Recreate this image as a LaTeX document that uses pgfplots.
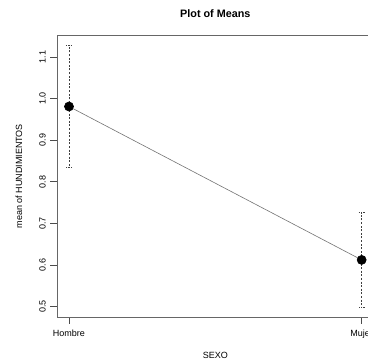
\documentclass[border=0pt]{standalone}
\usepackage{fontspec}
\setmainfont{Liberation Sans}
\usepackage{pgfplots}
\pgfplotsset{compat=1.18}
\begin{document}
\begin{tikzpicture}
\useasboundingbox (-42.75pt,-34.5pt) rectangle (233.25pt,237.75pt);
\clip (-42.75pt,-34.5pt) rectangle (233.25pt,237.75pt);
\begin{axis}[
  at={(0,0)}, anchor=south west,
  scale only axis, width=237.5pt, height=211.1pt,
  xmin=0.959, xmax=2.041, ymin=0.4747, ymax=1.1517,
  xtick={1,2}, xticklabels={Hombre,Mujer},
  ytick={0.5,0.6,0.7,0.8,0.9,1.0,1.1},
  yticklabel style={rotate=90, anchor=south, /pgf/number format/fixed, /pgf/number format/precision=1, /pgf/number format/fixed zerofill},
  xticklabel style={yshift=-1.2pt},
  /pgf/number format/assume math mode=true,
  tick align=outside, major tick length=5pt,
  xtick pos=bottom, ytick pos=left,
  axis line style={black!60, line width=0.6pt},
  tick style={black!70, line width=0.5pt},
  font=\fontsize{6.75}{8}\selectfont,
]
\addplot[draw=none, mark=none,
  error bars/.cd, y dir=both, y explicit,
  error bar style={black!75, dash pattern=on 1.5pt off 1.2pt, line width=0.45pt},
  error mark=-,
  error mark options={black!75, rotate=90, mark size=2.3pt, dash pattern=on 1pt off 0.8pt, line width=0.45pt}]
  coordinates {(1,0.981) +- (0,0.147) (2,0.612) +- (0,0.114)};
\addplot[black!55, line width=0.45pt, mark=*, mark size=3.4pt, mark options={black, solid, fill=black}]
  coordinates {(1,0.981) (2,0.612)};
\end{axis}
\node[font=\fontsize{8.1}{9}\selectfont\bfseries, anchor=center] at (118.75pt,227.2pt) {Plot of Means};
\node[font=\fontsize{6.75}{8}\selectfont, anchor=center] at (118.75pt,-28.5pt) {SEXO};
\node[font=\fontsize{6.75}{8}\selectfont, anchor=center, rotate=90] at (-28.5pt,105.55pt) {mean of HUNDIMIENTOS};
\end{tikzpicture}
\end{document}
